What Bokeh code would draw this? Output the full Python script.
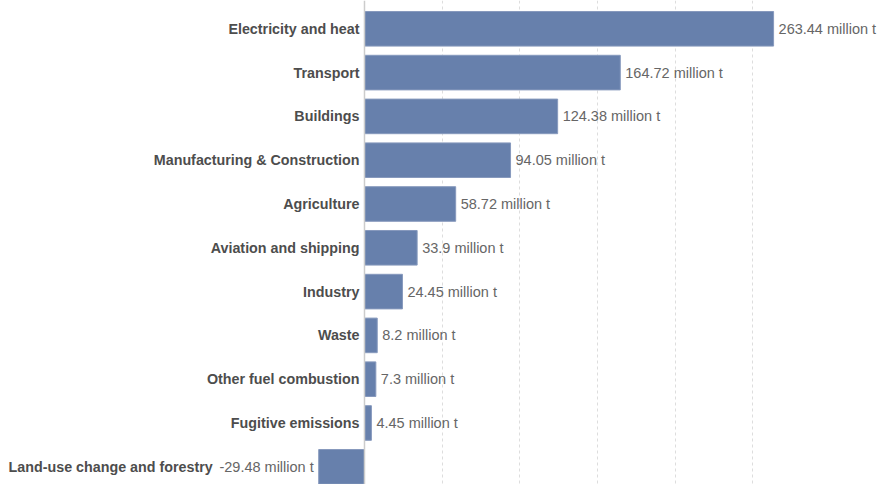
import numpy as np
from bokeh.plotting import figure
from bokeh.models import ColumnDataSource, Range1d, Span, FixedTicker
from bokeh.core.properties import value
from bokeh.embed import file_html
from bokeh.resources import INLINE

# ---- data ----
categories = [
    "Electricity and heat",
    "Transport",
    "Buildings",
    "Manufacturing & Construction",
    "Agriculture",
    "Aviation and shipping",
    "Industry",
    "Waste",
    "Other fuel combustion",
    "Fugitive emissions",
    "Land-use change and forestry",
]
emissions = [263.44, 164.72, 124.38, 94.05, 58.72, 33.9, 24.45, 8.2, 7.3, 4.45, -29.48]
unit = "million t"
grid_ticks = [50, 100, 150, 200, 250]

# ---- derived ----
idx = np.arange(len(categories))
vals = np.array(emissions)
value_labels = [f"{v} {unit}" for v in emissions]
neg = vals < 0
src = ColumnDataSource(dict(
    y=idx,
    v=vals,
    base=np.minimum(vals, 0),
    cat=categories,
    vlab=value_labels,
    vlab_off=np.where(neg, -5, 5),
    vlab_align=np.where(neg, "right", "left"),
    cat_off=np.where(neg, -106, -5),
))

p = figure(width=878, height=484, output_backend="svg", toolbar_location=None,
           x_range=Range1d(-234.4, 331.0), y_range=Range1d(10.404, -0.646),
           min_border=0, min_border_left=0, min_border_right=0,
           min_border_top=0, min_border_bottom=0)
p.outline_line_color = None
p.background_fill_color = "white"
p.border_fill_color = "white"

p.xaxis.visible = False
p.yaxis.visible = False
p.ygrid.grid_line_color = None
p.xgrid.ticker = FixedTicker(ticks=grid_ticks)
p.xgrid.grid_line_color = "#dddddd"
p.xgrid.grid_line_dash = "3 3"
p.xgrid.grid_line_width = 1

p.hbar(y="y", left=0, right="v", height=0.79, source=src,
       fill_color="#6780ac", line_color="#8799bd", line_width=1)

p.add_layout(Span(location=0, dimension="height", line_color="#cccccc", line_width=1.5))

p.text(x="v", y="y", text="vlab", x_offset="vlab_off", text_align="vlab_align",
       text_baseline="middle", text_font=value("Liberation Sans"),
       text_font_size="14.5px", text_color="#666666", source=src)

p.text(x="base", y="y", text="cat", x_offset="cat_off", text_align="right",
       text_baseline="middle", text_font=value("Liberation Sans"),
       text_font_style="bold", text_font_size="14.3px", text_color="#4d4d4d", source=src)

open("out.html", "w").write(file_html(p, INLINE))
